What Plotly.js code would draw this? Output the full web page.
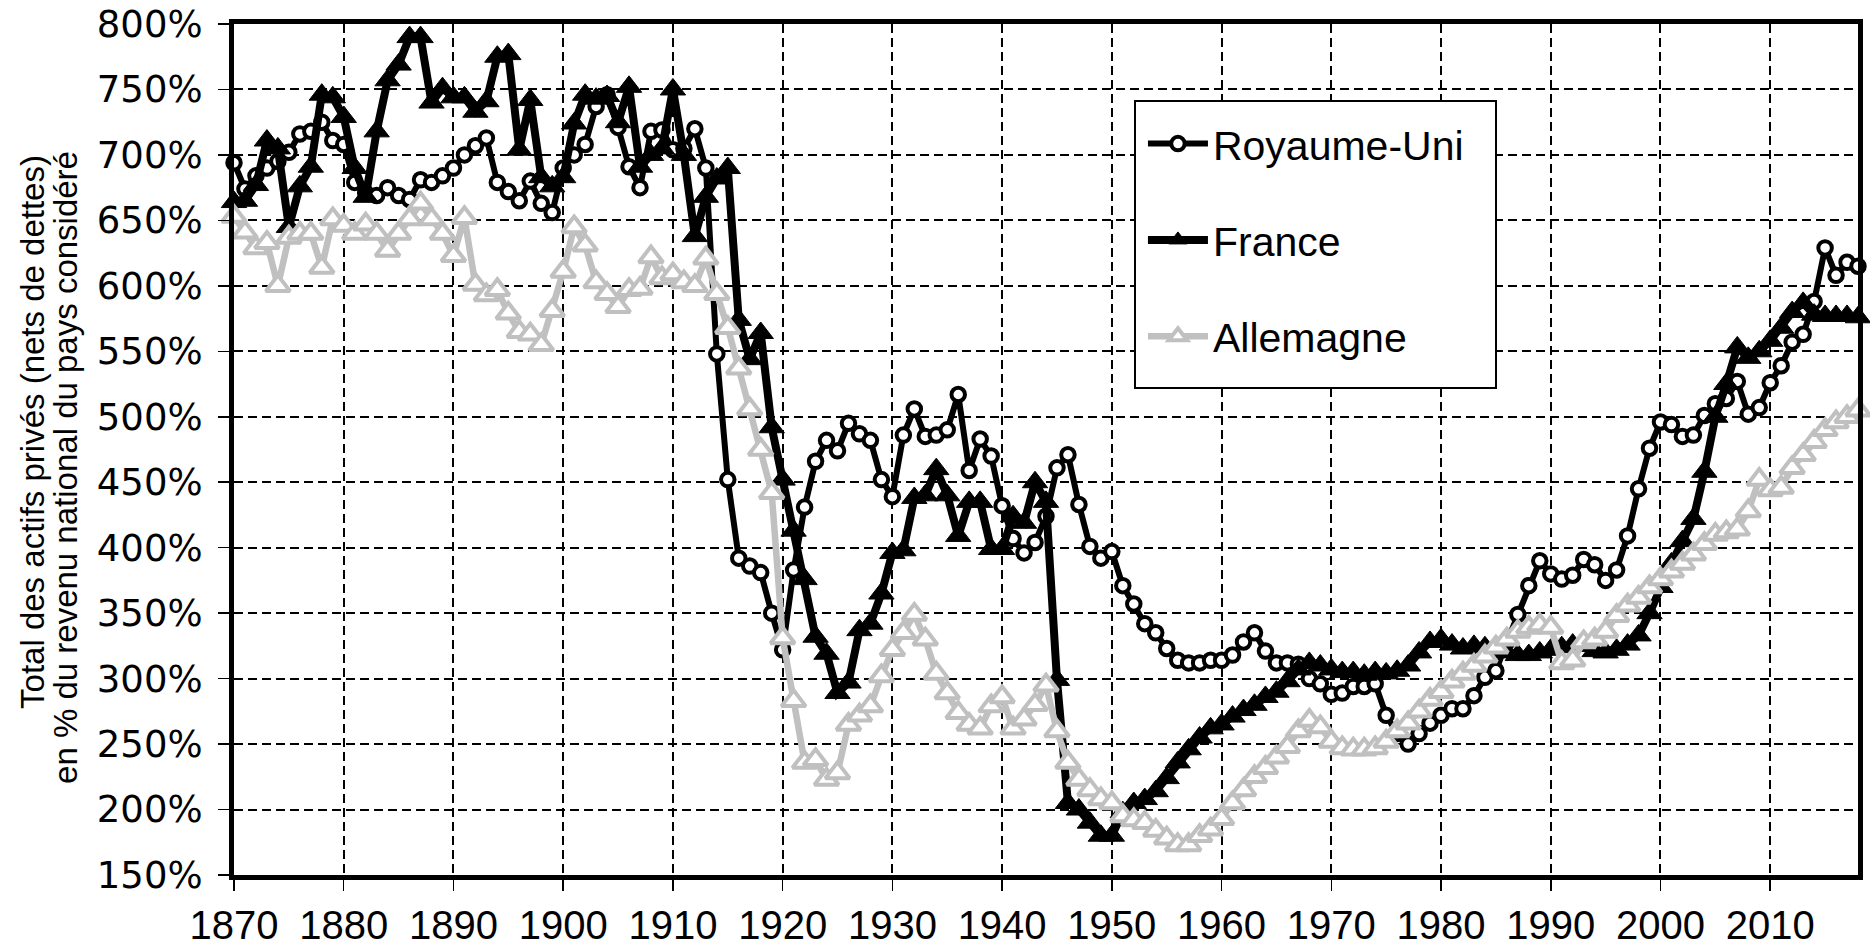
<!DOCTYPE html>
<html>
<head>
<meta charset="utf-8">
<script src="https://cdn.plot.ly/plotly-3.0.1.min.js"></script>
<style>html,body{margin:0;padding:0;background:#fff;}#chart{width:1870px;height:948px;}</style>
</head>
<body>
<div id="chart"></div>
<script>
// Years 1870 .. 2018
const years = [];
for (let y = 1870; y <= 2018; y++) years.push(y);

const royaumeUni = [
 694,674,684,690,695,702,716,718,725,711, // 1870-1879
 708,679,671,669,675,669,666,681,679,684, // 1880-1889
 690,700,707,713,679,672,665,680,663,656, // 1890-1899
 690,700,708,737,746,721,691,675,718,719, // 1900-1909
 704,705,720,690,548,452,392,386,381,350, // 1910-1919
 322,383,431,466,482,474,495,487,482,452, // 1920-1929
 439,486,506,485,486,490,517,459,483,470, // 1930-1939
 432,407,396,404,424,461,471,433,401,392, // 1940-1949
 397,371,357,342,335,323,314,312,312,314, // 1950-1959
 314,318,328,335,321,312,312,311,300,296, // 1960-1969
 288,289,294,294,296,272,258,250,258,266, // 1970-1979
 272,277,277,287,301,306,328,349,371,390, // 1980-1989
 380,376,379,391,387,375,383,409,445,476, // 1990-1999
 496,494,485,486,501,510,514,527,502,507, // 2000-2009
 526,539,557,563,588,629,608,618,615       // 2010-2018
];

const france = [
 664,665,677,711,705,645,676,691,746,744, // 1870-1879
 729,690,668,718,757,769,790,790,740,751, // 1880-1889
 744,744,733,741,775,777,704,742,683,676, // 1890-1899
 683,724,746,743,745,725,752,691,700,705, // 1900-1909
 750,700,638,668,682,690,574,544,564,492, // 1910-1919
 452,413,376,332,319,289,297,337,342,365, // 1920-1929
 396,398,438,440,460,440,409,435,435,399, // 1930-1939
 399,424,419,450,435,299,205,200,190,180, // 1940-1949
 180,198,205,208,214,224,236,246,255,262, // 1950-1959
 265,271,276,280,286,290,298,307,312,310, // 1960-1969
 307,305,305,303,305,304,306,310,320,328, // 1970-1979
 330,326,323,325,324,322,320,318,318,320, // 1980-1989
 322,324,326,325,321,320,322,326,333,350, // 1990-1999
 370,388,405,422,458,500,525,553,545,550, // 2000-2009
 558,568,580,587,578,577,577,577,576       // 2010-2018
];

const allemagne = [
 653,641,629,633,600,637,640,640,614,651, // 1870-1879
 646,640,647,640,627,640,651,663,651,640, // 1880-1889
 623,652,601,593,597,579,565,563,555,581, // 1890-1899
 611,645,631,603,594,584,597,598,622,606, // 1900-1909
 609,603,600,621,594,568,537,506,475,442, // 1910-1919
 331,283,236,238,223,228,265,272,279,302, // 1920-1929
 322,335,349,330,304,289,274,265,262,279, // 1930-1939
 286,262,269,280,295,260,236,223,215,208, // 1940-1949
 205,195,192,190,184,178,173,173,180,185, // 1950-1959
 193,205,215,225,232,240,248,260,268,263, // 1960-1969
 252,247,246,246,247,252,260,266,275,284, // 1970-1979
 290,298,304,310,317,324,330,336,339,341, // 1980-1989
 339,312,314,328,330,336,348,356,362,370, // 1990-1999
 376,382,388,395,403,410,412,414,428,452, // 2000-2009
 444,446,461,471,481,490,496,500,505       // 2010-2018
];

const seriesNames = ['Royaume-Uni', 'France', 'Allemagne'];
const xTickVals = [1870,1880,1890,1900,1910,1920,1930,1940,1950,1960,1970,1980,1990,2000,2010];
const yTickVals = [150,200,250,300,350,400,450,500,550,600,650,700,750,800];
const yTitleLines = ['Total des actifs privés (nets de dettes)', 'en % du revenu national du pays considéré'];

const grey = '#c0c0c0';

const traces = [
  {
    x: years, y: royaumeUni, name: seriesNames[0], legendgroup: 'a',
    type: 'scatter', mode: 'lines+markers', cliponaxis: false,
    line: {color: '#000', width: 6},
    marker: {symbol: 'circle', size: 13.5, color: '#fff', line: {color: '#000', width: 4}}
  },
  {
    x: years, y: france, name: seriesNames[1], legendgroup: 'b',
    type: 'scatter', mode: 'lines+markers', cliponaxis: false,
    line: {color: '#000', width: 8},
    marker: {symbol: 'triangle-up', size: 22, color: '#000', line: {color: '#000', width: 1}}
  },
  {
    x: years, y: allemagne, name: seriesNames[2], legendgroup: 'c',
    type: 'scatter', mode: 'lines+markers', cliponaxis: false,
    line: {color: grey, width: 6.5},
    marker: {symbol: 'triangle-up', size: 21, color: '#fff', line: {color: grey, width: 4}}
  }
];

const axisCommon = {
  showgrid: true, gridcolor: '#000', gridwidth: 2, griddash: '9px,5px',
  showline: true, linecolor: '#000', linewidth: 5, mirror: true,
  ticks: 'outside', ticklen: 11, tickwidth: 1.5, tickcolor: '#000',
  zeroline: false, fixedrange: true
};

// legend frame (paper coordinates derived from the plot area)
const legendBox = {x0: 0.5548, x1: 0.7771, y0: 0.5722, y1: 0.9095};

const layout = {
  width: 1870, height: 948,
  paper_bgcolor: '#fff', plot_bgcolor: '#fff',
  margin: {l: 234, r: 12, t: 24, b: 73},
  showlegend: true,
  legend: {
    x: 0.5597, y: 0.8984, xanchor: 'left', yanchor: 'top',
    bgcolor: 'rgba(0,0,0,0)', borderwidth: 0,
    font: {family: 'Liberation Sans, Arial, sans-serif', size: 41, color: '#000'},
    tracegroupgap: 40, itemwidth: 60, itemsizing: 'trace'
  },
  shapes: [
    {type: 'rect', xref: 'paper', yref: 'paper', layer: 'above',
     x0: legendBox.x0, x1: legendBox.x1, y0: legendBox.y0, y1: legendBox.y1,
     fillcolor: '#fff', line: {color: '#000', width: 2}}
  ],
  xaxis: Object.assign({}, axisCommon, {
    range: [1870, 2018], tickmode: 'array', tickvals: xTickVals,
    ticktext: xTickVals.map(String),
    tickfont: {family: 'Liberation Sans, Arial, sans-serif', size: 40, color: '#000'}
  }),
  yaxis: Object.assign({}, axisCommon, {
    range: [150, 800], tickmode: 'array', tickvals: yTickVals,
    ticktext: yTickVals.map(v => v + '%'), ticklabelstandoff: 8,
    tickfont: {family: 'DejaVu Sans, sans-serif', size: 37, color: '#000'}
  }),
  annotations: [
    {text: yTitleLines[0], xref: 'paper', yref: 'paper', x: 0, y: 0.5206, xshift: -201,
     xanchor: 'center', yanchor: 'middle', textangle: -90, showarrow: false,
     font: {family: 'Liberation Sans, Arial, sans-serif', size: 33, color: '#000'}},
    {text: yTitleLines[1], xref: 'paper', yref: 'paper', x: 0, y: 0.4783, xshift: -168,
     xanchor: 'center', yanchor: 'middle', textangle: -90, showarrow: false,
     font: {family: 'Liberation Sans, Arial, sans-serif', size: 33, color: '#000'}}
  ]
};

Plotly.newPlot('chart', traces, layout, {displayModeBar: false, staticPlot: true});
</script>
</body>
</html>
